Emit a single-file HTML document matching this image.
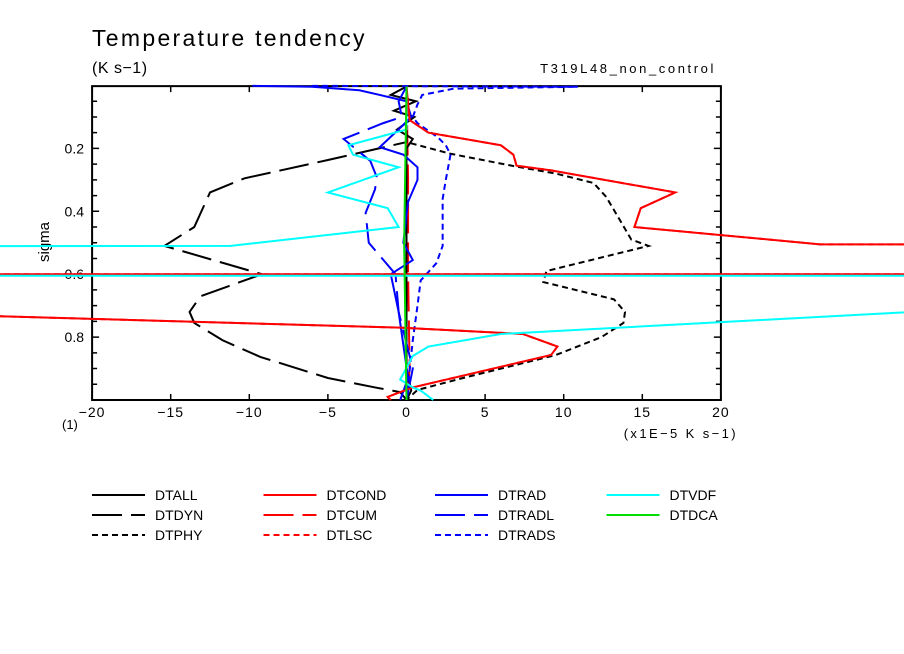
<!DOCTYPE html>
<html><head><meta charset="utf-8"><style>
html,body{margin:0;padding:0;background:#fff;}
svg{display:block;font-family:"Liberation Sans",sans-serif;}
</style></head><body>
<svg id="chart" width="904" height="654" viewBox="0 0 904 654" xmlns="http://www.w3.org/2000/svg">
<text x="92" y="46" font-size="23" letter-spacing="2.3">Temperature tendency</text>
<text x="92" y="73" font-size="16" letter-spacing="0.5">(K s−1)</text>
<text x="716" y="73" font-size="13" letter-spacing="2.6" text-anchor="end">T319L48_non_control</text>
<text transform="translate(49,242) rotate(-90)" font-size="15" text-anchor="middle">sigma</text>
<text x="62" y="429" font-size="13">(1)</text>
<text x="738" y="438" font-size="13" letter-spacing="2.4" text-anchor="end">(x1E−5 K s−1)</text>
<g id="axes"></g>
<g id="series"></g>
<g id="legend"></g>
</svg>
<script>
const xTicks=[-20,-15,-10,-5,0,5,10,15,20];
const yTicks=[0.2,0.4,0.6,0.8];
const seriesNames=["DTALL","DTDYN","DTPHY","DTCOND","DTCUM","DTLSC","DTRAD","DTRADL","DTRADS","DTVDF","DTDCA"];
const dtallS=[0.003,0.03,0.05,0.08,0.1,0.14,0.17,0.2,0.5,0.9,0.97,1.0];
const dtallV=[0,-1,0.6,-0.8,0.5,-0.6,0.4,0,0,0,0.3,0];
const dtdynS=[0.003,0.18,0.237,0.295,0.34,0.45,0.51,0.60,0.67,0.72,0.755,0.81,0.863,0.93,0.96,0.975,1.0];
const dtdynV=[0,0,-5,-10.3,-12.5,-13.5,-15.4,-9.2,-13.1,-13.8,-13.5,-11.7,-9.3,-5,-2,-0.4,0];
const dtphyS=[0.003,0.18,0.217,0.256,0.28,0.31,0.354,0.43,0.49,0.51,0.59,0.625,0.68,0.72,0.755,0.80,0.857,0.93,0.968,1.0];
const dtphyV=[0,0,2.8,6.8,9.5,11.9,12.7,13.6,14.3,15.4,8.9,8.7,13.2,13.9,13.8,12.4,9.5,3.6,0.7,0];
const dtcondS=[0.003,0.11,0.15,0.19,0.22,0.255,0.27,0.34,0.39,0.45,0.505,0.515,0.60,0.60,0.77,0.79,0.83,0.857,0.96,0.99,1.0];
const dtcondV=[0,0.2,1.4,6,6.8,7,9.2,17.1,14.9,14.5,26.3,200,200,-120,-0.4,7.4,9.6,9.2,0.4,-1.2,-1];
const dtcumS=[0.003,0.3,0.6,0.9,1.0];
const dtcumV=[0,0.1,0.1,0.2,0];
const dtlscS=dtcondS.slice();
const dtlscV=dtcondV.slice();
const dtradS=[0.001,0.004,0.015,0.03,0.05,0.1,0.13,0.196,0.22,0.26,0.3,0.37,0.5,0.555,0.6,0.72,0.93,1.0];
const dtradV=[-9.8,-6,-3,-1.7,0,0.3,-0.3,-1.7,-0.2,0.7,0.7,0.1,-0.2,0.4,-1,-0.5,0.1,-0.4];
const dtradlS=[0.003,0.05,0.1,0.12,0.17,0.24,0.29,0.33,0.405,0.5,0.6,0.72,0.9,1.0];
const dtradlV=[0,-0.5,-0.3,-1.5,-4,-2.3,-1.9,-2,-2.6,-2.4,-0.7,-0.5,0.4,0];
const dtradsS=[0.001,0.004,0.01,0.03,0.06,0.1,0.12,0.165,0.19,0.22,0.3,0.36,0.51,0.565,0.62,0.7,0.81,1.0];
const dtradsV=[-6,10.9,3,1,0.7,0.4,0.7,2,2.5,2.8,2.5,2.3,2.3,1.9,0.9,0.7,0.4,0];
const dtvdfS=[0.003,0.14,0.19,0.22,0.26,0.34,0.39,0.45,0.51,0.52,0.605,0.605,0.79,0.83,0.86,0.935,0.96,0.97,1.0];
const dtvdfV=[0,0,-3.7,-3.4,-0.5,-5,-1.2,-0.5,-11.2,-200,-200,75,6,1.4,0.4,-0.4,0.4,0.9,1.7];
const dtdcaS=[0.003,0.5,1.0];
const dtdcaV=[0,-0.15,0];

const X0=406.5,XS=15.72,Y0=85.5,YS=314.5;
function X(v){return X0+v*XS;}
function Y(s){return Y0+s*YS;}
const NS="http://www.w3.org/2000/svg";
function mk(tag,parent){const e=document.createElementNS(NS,tag);parent.appendChild(e);return e;}

const axes=document.getElementById('axes');
const frame=mk('rect',axes);


frame.setAttribute('x',X(-20));frame.setAttribute('y',Y(0.002));
frame.setAttribute('width',X(20)-X(-20));frame.setAttribute('height',Y(1)-Y(0.002));
frame.setAttribute('fill','none');frame.setAttribute('stroke','#000');frame.setAttribute('stroke-width','2');
xTicks.forEach(v=>{
  const t=mk('path',axes);
  
  
  t.setAttribute('d',`M${X(v)},${Y(1)}v-6M${X(v)},${Y(0.002)}v6`);
  t.setAttribute('stroke','#000');t.setAttribute('stroke-width','1.5');
  const l=mk('text',axes);
  
  
  l.setAttribute('x',X(v));l.setAttribute('y',417);l.setAttribute('font-size','14');l.setAttribute('letter-spacing','1');l.setAttribute('text-anchor','middle');
  l.textContent=v<0?'−'+Math.abs(v):String(v);
});
for(let s=0.05;s<0.99;s+=0.05){
  const major=yTicks.some(t=>Math.abs(t-s)<1e-6);
  const t=mk('path',axes);
  
  
  const len=major?7:5;
  t.setAttribute('d',`M${X(-20)},${Y(s)}h${len}M${X(20)},${Y(s)}h-${len}`);
  t.setAttribute('stroke','#000');t.setAttribute('stroke-width','1.5');
}
yTicks.forEach(s=>{
  const l=mk('text',axes);
  
  
  l.setAttribute('x',84);l.setAttribute('y',Y(s)+5);l.setAttribute('font-size','14');l.setAttribute('text-anchor','end');
  l.textContent=s.toFixed(1);
});

const styles={
 DTALL:['#000',''],DTDYN:['#000','30 9'],DTPHY:['#000','6 4'],
 DTCOND:['#ff0000',''],DTCUM:['#ff0000','30 9'],DTLSC:['#ff0000','6 4'],
 DTRAD:['#0000ff',''],DTRADL:['#0000ff','30 9'],DTRADS:['#0000ff','6 4'],
 DTVDF:['#00ffff',''],DTDCA:['#00dd00','']};
const data={DTALL:[dtallS,dtallV],DTDYN:[dtdynS,dtdynV],DTPHY:[dtphyS,dtphyV],DTCOND:[dtcondS,dtcondV],DTCUM:[dtcumS,dtcumV],DTLSC:[dtlscS,dtlscV],DTRAD:[dtradS,dtradV],DTRADL:[dtradlS,dtradlV],DTRADS:[dtradsS,dtradsV],DTVDF:[dtvdfS,dtvdfV],DTDCA:[dtdcaS,dtdcaV]};
const order=["DTCUM","DTLSC","DTALL","DTDYN","DTPHY","DTRADS","DTRADL","DTRAD","DTCOND","DTVDF","DTDCA"];
const sg=document.getElementById('series');
order.forEach(n=>{
  const [S,V]=data[n];
  const p=mk('polyline',sg);
  
  
  p.setAttribute('points',S.map((s,i)=>X(V[i])+','+Y(s)).join(' '));
  p.setAttribute('fill','none');p.setAttribute('stroke',styles[n][0]);p.setAttribute('stroke-width','2');
  if(styles[n][1])p.setAttribute('stroke-dasharray',styles[n][1]);
});

const lg=document.getElementById('legend');
seriesNames.forEach((n,i)=>{
  const col=Math.floor(i/3),row=i%3;
  const x=92+col*171.5,y=495+row*20;
  const g=mk('g',lg);
  
  
  const l=mk('line',g);
  l.setAttribute('x1',x);l.setAttribute('x2',x+53);l.setAttribute('y1',y);l.setAttribute('y2',y);
  l.setAttribute('stroke',styles[n][0]);l.setAttribute('stroke-width','2');
  if(styles[n][1])l.setAttribute('stroke-dasharray',styles[n][1]);
  const t=mk('text',g);
  t.setAttribute('x',x+63);t.setAttribute('y',y+5);t.setAttribute('font-size','14');
  t.textContent=n;
});
</script>
</body></html>
